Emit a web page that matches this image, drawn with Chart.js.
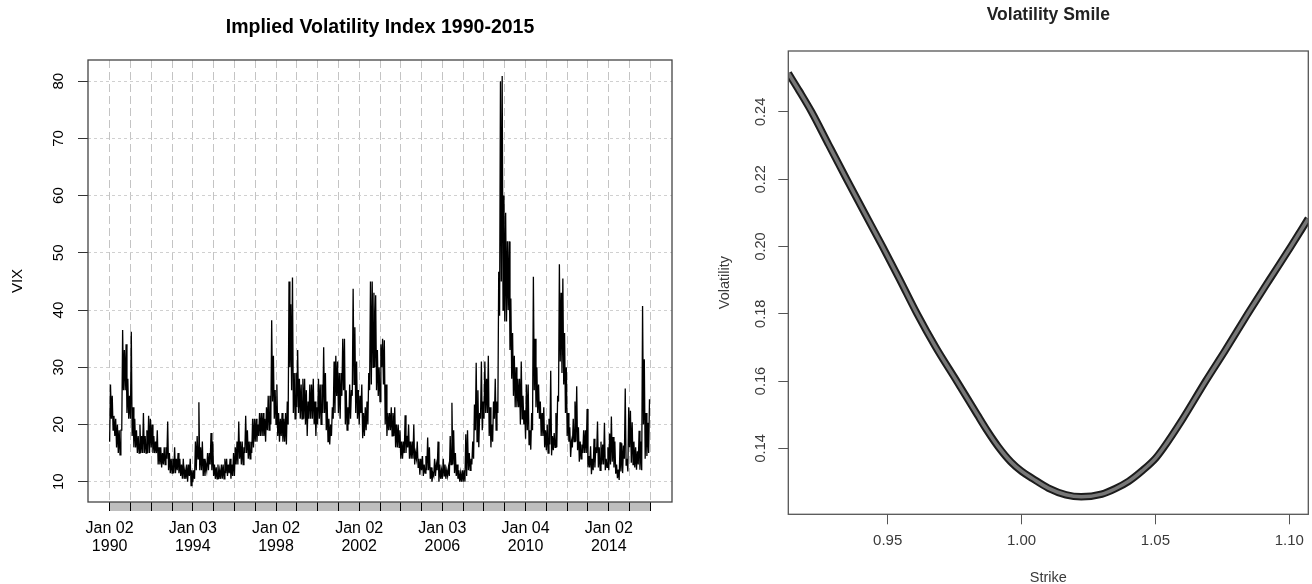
<!DOCTYPE html>
<html>
<head>
<meta charset="utf-8">
<title>VIX 1990-2015 and volatility smile</title>
<script src="https://cdn.jsdelivr.net/npm/chart.js@4.4.1/dist/chart.umd.min.js"></script>
<style>
  html, body { margin: 0; padding: 0; background: #fff; }
  #wrap { position: relative; width: 1312px; height: 584px; }
  .panel { position: absolute; top: 0; height: 584px; }
  #left { left: 0; width: 700px; }
  #right { left: 700px; width: 612px; }
</style>
</head>
<body>
<div id="wrap">
  <div class="panel" id="left"><canvas id="vixChart" width="700" height="584"></canvas></div>
  <div class="panel" id="right"><canvas id="smileChart" width="612" height="584"></canvas></div>
</div>
<script>
const FONT = "'Liberation Sans', Arial, Helvetica, sans-serif";

// VIX, one low and one high per month, Jan 1990 .. Dec 2015
const vixStartYear = 1990;
const vixLow = [
  17, 21, 19, 18, 16, 15, 14.7, 19, 26, 26, 22, 21,            // 1990
  21, 18, 16, 16, 15, 15, 15, 15, 15, 15, 15, 15,              // 1991
  16, 15, 15, 15, 13, 13, 12.5, 13, 13, 14, 12, 11.5,          // 1992
  11.5, 11.5, 11.5, 12, 11.5, 11, 10.5, 10.5, 10.5, 10, 11, 9.3, // 1993
  9.9, 10.5, 12, 14, 12, 12, 11, 11, 12, 12, 13, 12,           // 1994
  11, 10.5, 10.5, 10.5, 10.5, 10.5, 10.5, 11.5, 11, 11.5, 10.5, 11, // 1995
  11, 13, 13, 14, 13, 13, 15, 15, 14, 14, 15, 16,              // 1996
  17, 17, 18, 18, 18, 18, 17, 19, 19, 20, 24, 21,              // 1997
  20, 18, 17, 18, 17, 17, 16.5, 20, 30, 26, 22, 21,            // 1998
  23, 22, 21, 21, 21, 20, 18, 21, 21, 21, 20, 18,              // 1999
  20, 21, 20, 22, 22, 19, 17, 16.5, 18, 21, 22, 25,            // 2000
  22, 21, 25, 26, 20, 19, 20, 21, 25, 27, 22, 21,              // 2001
  20, 22, 17.6, 18, 19, 20, 26, 27, 30, 30, 26, 25,            // 2002
  24, 30, 27, 20, 18, 19, 19, 18, 18, 16, 16, 16,              // 2003
  14, 14, 15, 15, 16, 14, 14, 14, 13, 14, 12.5, 11.2,          // 2004
  12, 11, 11.5, 12, 12, 10.5, 10, 11, 11, 12, 10, 10.5,        // 2005
  10.5, 11, 10.5, 11, 11, 13, 13, 11.5, 11, 10.5, 10, 10,      // 2006
  10, 10, 11, 12, 12, 13, 14, 19, 17, 16, 21, 19,              // 2007
  21, 22, 22, 18, 16, 17, 21, 19, 22, 39, 45, 40,              // 2008
  38, 38, 40, 33, 28, 25, 23, 23, 23, 20, 21, 20,              // 2009
  17.5, 19, 16.5, 15.6, 19, 26, 23, 22, 21, 18, 18, 16,        // 2010
  15.5, 15, 16.5, 14.6, 15.5, 16, 16, 24, 31, 29, 27, 22,      // 2011
  18, 17, 14.3, 16, 17, 17, 15.5, 13.5, 14, 15, 15, 15,        // 2012
  12.5, 12.5, 11.3, 12, 12.5, 15, 12.5, 12, 13, 13, 12, 12.5,  // 2013
  12, 13, 13.5, 12.5, 11.4, 10.6, 10.3, 11.8, 11.5, 14, 12.9, 11.8, // 2014
  16, 13.3, 13, 12.5, 12.1, 13, 12.1, 12, 20, 14, 14.5, 15     // 2015
];
const vixHigh = [
  27, 25, 21.5, 21, 20, 19, 19, 36.5, 33, 34, 28, 25,          // 1990
  36.2, 23, 21, 19, 18, 20, 18, 22, 18, 19, 21.5, 21,          // 1991
  20, 18, 17, 19, 16, 16, 15, 16, 16, 20.5, 15, 14,            // 1992
  14, 16, 14, 15, 14, 13, 14, 12, 13, 13, 14, 12,              // 1993
  12, 17, 18, 23.9, 16, 17, 14, 13, 15, 15, 18.5, 17,          // 1994
  13, 12.5, 13, 12, 13, 13, 14, 14, 13, 14, 13, 15,            // 1995
  16, 17, 20.5, 17, 17, 16, 21.5, 19, 17, 17, 21, 21,          // 1996
  21, 20, 22, 22, 22, 21, 23, 25, 25, 38.2, 32, 26,            // 1997
  27, 22, 21, 22, 21, 22, 24, 45, 41, 45.7, 29, 29,            // 1998
  33, 28, 27, 28, 28, 26, 24, 27, 27, 28, 24, 23,              // 1999
  28, 27, 27, 33.5, 29, 24, 21, 20, 23, 31, 32, 31,            // 2000
  29, 29, 35, 35, 26, 23, 27, 26, 43.7, 37, 31, 26,            // 2001
  25, 27, 22, 23, 24, 29, 45, 45, 43, 42.6, 33, 30,            // 2002
  34, 35, 34.7, 27, 22, 22, 23, 22, 23, 20, 20, 19,            // 2003
  17, 17, 21.6, 18, 20, 17, 17, 20, 15, 17, 14, 14,            // 2004
  14.5, 13, 14.5, 17.7, 16, 12.5, 11.5, 14, 13, 17, 13, 12,    // 2005
  14, 13, 12, 12.5, 18, 23.8, 19, 15, 13, 12, 11.5, 12,        // 2006
  12, 18.3, 19, 15, 14, 17, 23.5, 30.8, 26, 22, 31, 24,        // 2007
  31, 28, 32, 23, 20, 24, 28, 24, 46.7, 80, 80.9, 60,          // 2008
  57, 52, 52, 42, 36, 32, 30, 28, 28, 31, 25, 22.5,            // 2009
  27, 27, 19, 22, 45.8, 35, 30, 27, 24, 22, 23, 19,            // 2010
  20, 21, 29.4, 18, 18.5, 22, 25, 48, 43, 45.5, 36, 30,        // 2011
  22, 19.5, 17, 21, 24, 26.7, 19.5, 17, 16.5, 19, 19, 22.7,    // 2012
  14.5, 16.2, 14, 17.5, 16, 20.5, 16, 17, 16.5, 20.3, 14, 16,  // 2013
  18.4, 21.4, 17.8, 17, 13, 12.1, 16.9, 16.7, 16.3, 26.3, 14, 23, // 2014
  22.4, 20.4, 17, 16, 15.3, 18.9, 17, 40.7, 31.4, 22, 20.3, 24.4 // 2015
];
const vixYTicks = [10, 20, 30, 40, 50, 60, 70, 80];
const xLabelYears = [1990, 1994, 1998, 2002, 2006, 2010, 2014];
const xLabelText = [
  ['Jan 02', '1990'], ['Jan 03', '1994'], ['Jan 02', '1998'], ['Jan 02', '2002'],
  ['Jan 03', '2006'], ['Jan 04', '2010'], ['Jan 02', '2014']
];

// volatility smile
const strikes = [0.9129, 0.9170, 0.9216, 0.9280, 0.9347, 0.9415, 0.9481, 0.9545, 0.9610, 0.9680,
  0.9758, 0.9835, 0.9870, 0.9913, 0.9960, 1.0000, 1.0042, 1.0100, 1.0166, 1.0223, 1.0300, 1.0350,
  1.0400, 1.0450, 1.0500, 1.0529, 1.0600, 1.0688, 1.0760, 1.0845, 1.0925, 1.1006, 1.1071];
const smileVol = [0.2515, 0.2462, 0.2400, 0.2302, 0.2200, 0.2098, 0.2000, 0.1902, 0.1800, 0.1700,
  0.1600, 0.1500, 0.1455, 0.1405, 0.1360, 0.1332, 0.1310, 0.1282, 0.1262, 0.1256, 0.1264, 0.1280,
  0.1302, 0.1333, 0.1370, 0.1400, 0.1485, 0.1600, 0.1690, 0.1800, 0.1900, 0.2000, 0.2083];
const strikeTicks = [0.95, 1.00, 1.05, 1.10];
const volTicks = [0.14, 0.16, 0.18, 0.20, 0.22, 0.24];

// ---- build
const vixPoints = [];
vixLow.forEach((lo, i) => {
  const t = vixStartYear + i / 12;
  vixPoints.push({x: t, y: lo});
  vixPoints.push({x: t + 0.5 / 12, y: vixHigh[i]});
});
const lastYear = vixStartYear + vixLow.length / 12;
const gridYears = [];
for (let y = vixStartYear; y <= lastYear; y++) gridYears.push(y);

const smilePoints = strikes.map((k, i) => ({x: k, y: smileVol[i]}));

const boxPlugin = {
  id: 'box',
  afterDatasetsDraw(chart, args, opts) {
    const {ctx, chartArea: a} = chart;
    ctx.save();
    ctx.strokeStyle = opts.color;
    ctx.lineWidth = opts.width;
    ctx.strokeRect(a.left, a.top, a.right - a.left, a.bottom - a.top);
    ctx.restore();
  }
};

// grey time bar under the xts style plot
const timeBarPlugin = {
  id: 'timeBar',
  beforeDraw(chart) {
    const {ctx, chartArea: a} = chart;
    const xs = chart.scales.x;
    const x0 = xs.getPixelForValue(gridYears[0]);
    const x1 = xs.getPixelForValue(gridYears[gridYears.length - 1]);
    ctx.save();
    ctx.fillStyle = '#bebebe';
    ctx.fillRect(x0, a.bottom, x1 - x0, 9);
    ctx.restore();
  }
};

new Chart(document.getElementById('vixChart'), {
  type: 'line',
  data: {
    datasets: [{
      data: vixPoints,
      borderColor: '#000',
      borderWidth: 1.3,
      pointRadius: 0,
      tension: 0
    }]
  },
  options: {
    responsive: false,
    animation: false,
    events: [],
    layout: { padding: { left: 0, right: 28, top: 0, bottom: 0 } },
    plugins: {
      legend: { display: false },
      tooltip: { enabled: false },
      title: {
        display: true,
        fullSize: false,
        text: 'Implied Volatility Index 1990-2015',
        color: '#000',
        font: { family: FONT, size: 19.5, weight: 'bold' },
        padding: { top: 15.5, bottom: 21.1 }
      },
      box: { color: '#444', width: 1.3 }
    },
    scales: {
      x: {
        type: 'linear',
        bounds: 'data',
        min: 1988.96,
        max: 2017.04,
        afterBuildTicks: s => { s.ticks = gridYears.map(v => ({value: v})); },
        afterFit: s => { s.height = 82; },
        grid: { color: '#c4c4c4', lineWidth: 1, tickLength: 9, tickColor: '#000', tickWidth: 1, tickBorderDash: [] },
        border: { display: false, dash: [8, 4] },
        ticks: {
          autoSkip: false, maxRotation: 0, minRotation: 0, padding: 9.5, color: '#000',
          font: { family: FONT, size: 16, lineHeight: 1.07 },
          callback: v => { const k = xLabelYears.indexOf(v); return k < 0 ? '' : xLabelText[k]; }
        }
      },
      y: {
        bounds: 'data',
        min: 6.45,
        max: 83.7,
        afterBuildTicks: s => { s.ticks = vixYTicks.map(v => ({value: v})); },
        afterFit: s => { s.width = 88; },
        grid: { color: '#d0d0d0', lineWidth: 1, tickLength: 10, tickColor: '#333', tickWidth: 1, tickBorderDash: [] },
        border: { display: false, dash: [3, 3] },
        ticks: {
          minRotation: 90, maxRotation: 90, crossAlign: 'center', padding: 11, color: '#000',
          font: { family: FONT, size: 15 }
        },
        title: { display: true, text: 'VIX', color: '#000', font: { family: FONT, size: 15 }, padding: { top: 9.3, bottom: 0 } }
      }
    }
  },
  plugins: [timeBarPlugin, boxPlugin]
});

new Chart(document.getElementById('smileChart'), {
  type: 'line',
  data: {
    datasets: [
      { data: smilePoints, order: 0, borderColor: '#777', borderWidth: 3.5, pointRadius: 0,
        cubicInterpolationMode: 'monotone', clip: 0, borderJoinStyle: 'round' },
      { data: smilePoints, order: 1, borderColor: '#1c1c1c', borderWidth: 7.5, pointRadius: 0,
        cubicInterpolationMode: 'monotone', clip: 0, borderJoinStyle: 'round' }
    ]
  },
  options: {
    responsive: false,
    animation: false,
    events: [],
    layout: { padding: { left: 0, right: 3.7, top: 0, bottom: 0 } },
    plugins: {
      legend: { display: false },
      tooltip: { enabled: false },
      title: {
        display: true,
        fullSize: false,
        text: 'Volatility Smile',
        color: '#222',
        font: { family: FONT, size: 17.5, weight: 'bold' },
        padding: { top: 4.2, bottom: 25.8 }
      },
      box: { color: '#555', width: 1.3 }
    },
    scales: {
      x: {
        type: 'linear',
        bounds: 'data',
        min: 0.9129,
        max: 1.1071,
        afterBuildTicks: s => { s.ticks = strikeTicks.map(v => ({value: v})); },
        afterFit: s => { s.height = 69.7; },
        grid: { drawOnChartArea: false, tickLength: 10, tickColor: '#555', tickWidth: 1, tickBorderDash: [] },
        border: { display: false },
        ticks: {
          autoSkip: false, maxRotation: 0, minRotation: 0, padding: 7.4, color: '#3a3a3a',
          font: { family: FONT, size: 15 },
          callback: v => v.toFixed(2)
        },
        title: { display: true, text: 'Strike', color: '#3a3a3a', font: { family: FONT, size: 14.5 }, padding: { top: 0, bottom: -2.5 } }
      },
      y: {
        bounds: 'data',
        min: 0.1204,
        max: 0.2581,
        afterBuildTicks: s => { s.ticks = volTicks.map(v => ({value: v})); },
        afterFit: s => { s.width = 88.3; },
        grid: { drawOnChartArea: false, tickLength: 10, tickColor: '#555', tickWidth: 1, tickBorderDash: [] },
        border: { display: false },
        ticks: {
          minRotation: 90, maxRotation: 90, crossAlign: 'center', padding: 2.9, color: '#3a3a3a',
          font: { family: FONT, size: 14.5 },
          callback: v => v.toFixed(2)
        },
        title: { display: true, text: 'Volatility', color: '#3a3a3a', font: { family: FONT, size: 14.5 }, padding: { top: 16.3, bottom: 0 } }
      }
    }
  },
  plugins: [boxPlugin]
});
</script>
</body>
</html>
